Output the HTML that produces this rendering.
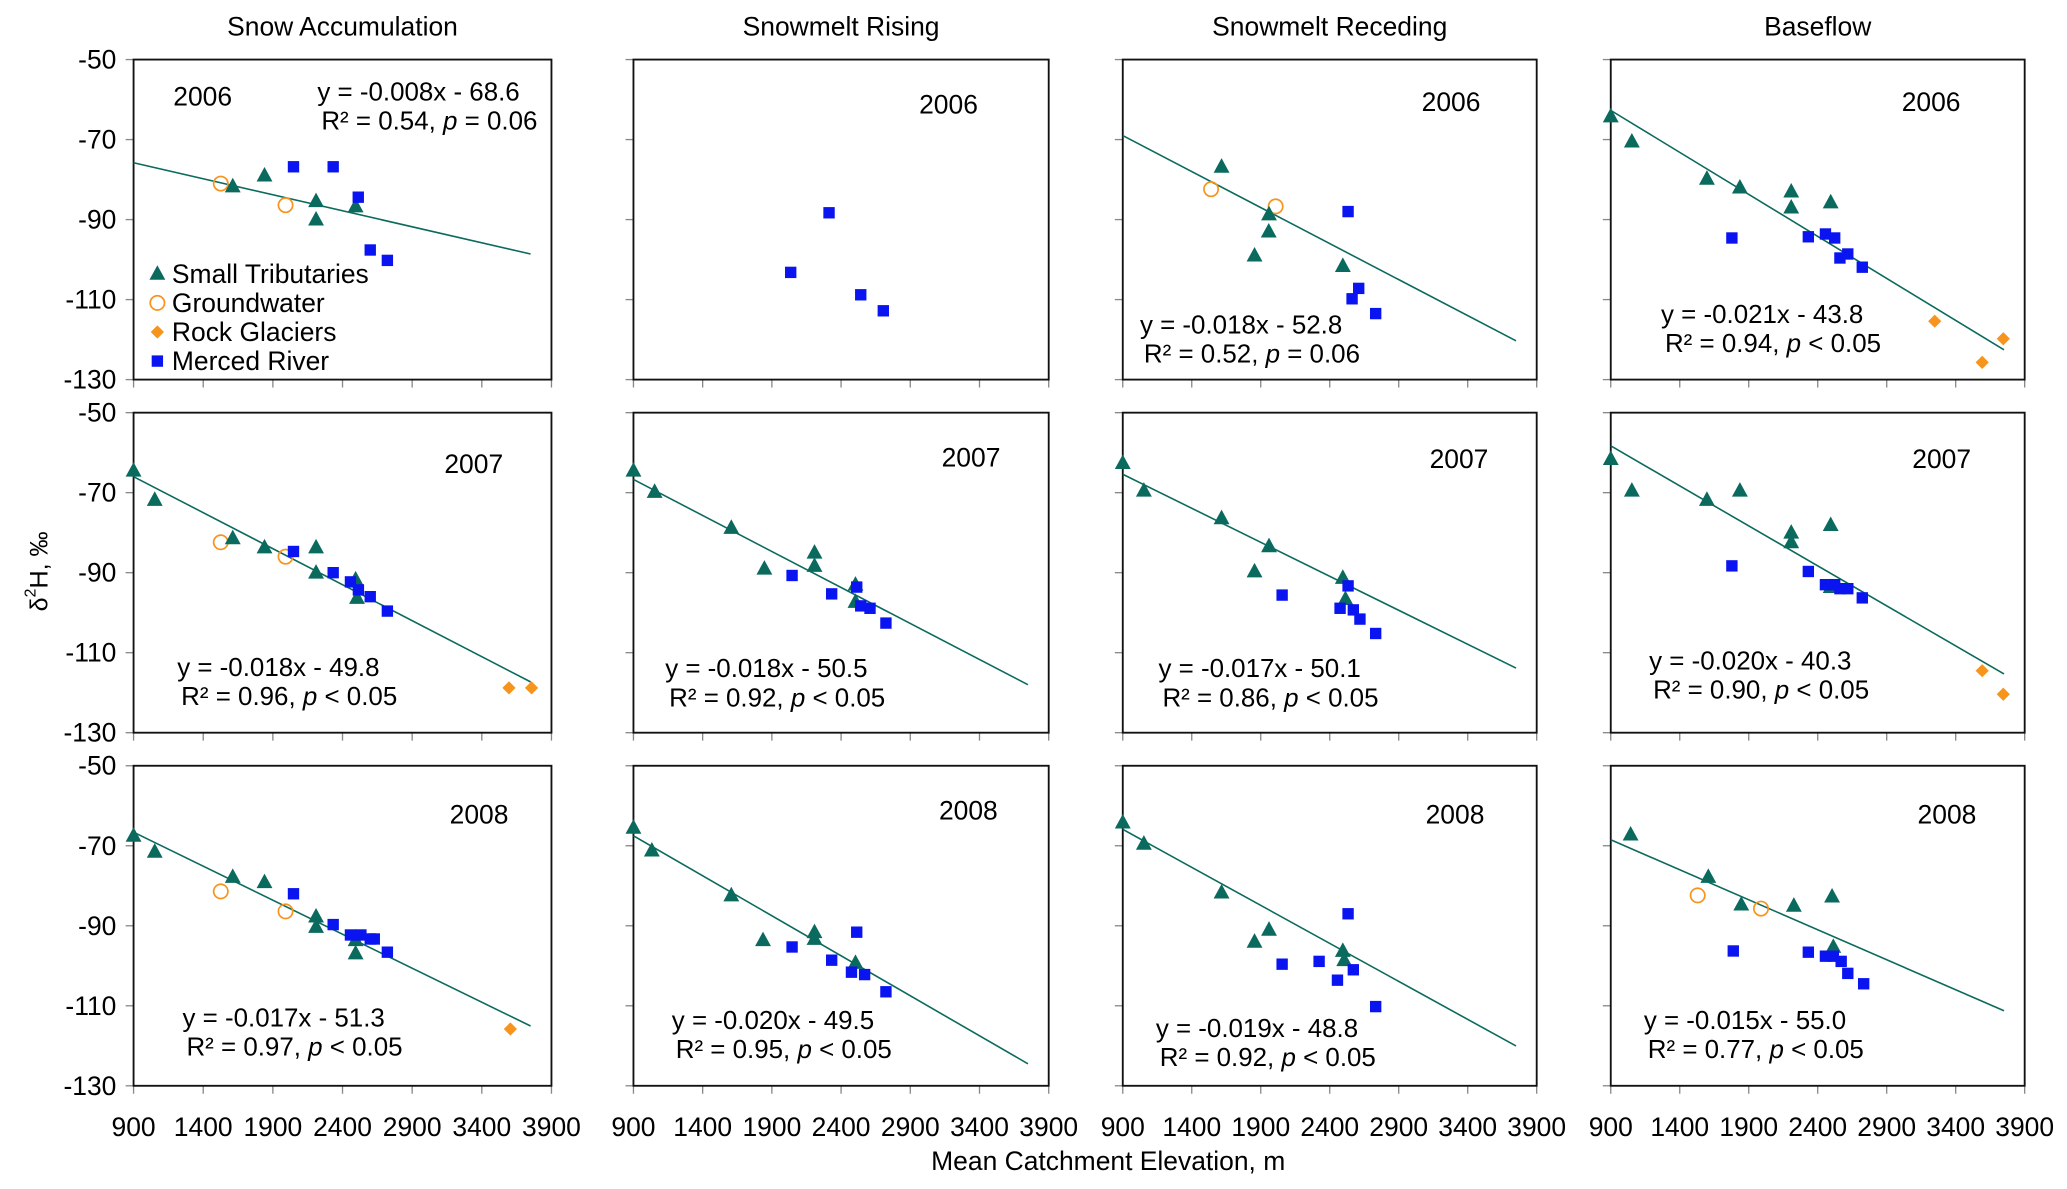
<!DOCTYPE html>
<html><head><meta charset="utf-8"><style>
html,body{margin:0;padding:0;background:#fff;}
svg{display:block;font-family:"Liberation Sans",Arial,sans-serif;}
</style></head><body>
<svg id="chart" width="2067" height="1189" viewBox="0 0 1563 899" xmlns="http://www.w3.org/2000/svg"></svg>
<script>
// ---- data (elevation m, δ2H ‰) ----
const columnTitles = ["Snow Accumulation","Snowmelt Rising","Snowmelt Receding","Baseflow"];
const years = ["2006","2007","2008"];
const yTicks = [-50,-70,-90,-110,-130];
const xTicks = [900,1400,1900,2400,2900,3400,3900];
// slopes / intercepts per panel (row-major), null = no trend line
const slopes = [-0.008,null,-0.018,-0.021, -0.018,-0.018,-0.017,-0.020, -0.017,-0.020,-0.019,-0.015];
const intercepts = [-68.6,null,-52.8,-43.8, -49.8,-50.5,-50.1,-40.3, -51.3,-49.5,-48.8,-55.0];
const eqText = ["y = -0.008x - 68.6","","y = -0.018x - 52.8","y = -0.021x - 43.8",
 "y = -0.018x - 49.8","y = -0.018x - 50.5","y = -0.017x - 50.1","y = -0.020x - 40.3",
 "y = -0.017x - 51.3","y = -0.020x - 49.5","y = -0.019x - 48.8","y = -0.015x - 55.0"];
const r2Text = ["0.54","","0.52","0.94","0.96","0.92","0.86","0.90","0.97","0.95","0.92","0.77"];
const pText = ["= 0.06","","= 0.06","< 0.05","< 0.05","< 0.05","< 0.05","< 0.05","< 0.05","< 0.05","< 0.05","< 0.05"];

const r1c1Tri=[[1612,-81.7],[1840,-79],[2210,-85.4],[2210,-90],[2494,-86.7]];
const r1c1Gw=[[1526,-81],[1991,-86.4]];
const r1c1Rg=[];
const r1c1Mr=[[2048,-76.8],[2333,-76.8],[2513,-84.4],[2599,-97.6],[2722,-100.2]];

const r1c2Tri=[];const r1c2Gw=[];const r1c2Rg=[];
const r1c2Mr=[[2036,-103.2],[2313,-88.3],[2542,-108.8],[2705,-112.8]];

const r1c3Tri=[[1616,-76.8],[1960,-88.7],[1958,-93],[1855,-99],[2495,-101.6]];
const r1c3Gw=[[1540,-82.4],[2008,-86.7]];
const r1c3Rg=[];
const r1c3Mr=[[2533,-88],[2562,-109.8],[2610,-107.2],[2733,-113.5]];

const r1c4Tri=[[900,-64.2],[1053,-70.5],[1597,-79.8],[1836,-82],[2208,-83],[2208,-87],[2494,-85.7]];
const r1c4Gw=[];
const r1c4Rg=[[3248,-115.4],[3592,-125.7],[3745,-119.8]];
const r1c4Mr=[[1778,-94.6],[2332,-94.3],[2456,-93.6],[2523,-94.6],[2561,-99.6],[2618,-98.6],[2723,-101.9]];

const r2c1Tri=[[900,-64.5],[1052,-71.8],[1612,-81.4],[1840,-83.7],[2210,-83.7],[2210,-90],[2494,-91.7],[2504,-96.3]];
const r2c1Gw=[[1526,-82.4],[1991,-86]];
const r2c1Rg=[[3595,-118.8],[3757,-118.8]];
const r2c1Mr=[[2048,-84.7],[2333,-90],[2457,-92.3],[2514,-94.3],[2599,-96],[2722,-99.6]];

const r2c2Tri=[[900,-64.5],[1053,-69.8],[1607,-78.8],[1846,-89],[2208,-85],[2208,-88.3],[2504,-93],[2504,-97.3]];
const r2c2Gw=[];const r2c2Rg=[];
const r2c2Mr=[[2046,-90.7],[2332,-95.3],[2513,-93.6],[2542,-98.3],[2609,-98.9],[2724,-102.6]];

const r2c3Tri=[[900,-62.6],[1053,-69.5],[1616,-76.4],[1855,-89.7],[1960,-83.4],[2495,-91.3],[2514,-96.6]];
const r2c3Gw=[];const r2c3Rg=[];
const r2c3Mr=[[2055,-95.6],[2475,-98.9],[2533,-93.3],[2571,-99.3],[2619,-101.6],[2733,-105.2]];

const r2c4Tri=[[900,-61.6],[1053,-69.5],[1597,-71.8],[1836,-69.5],[2208,-80],[2208,-82.4],[2494,-78.1],[2494,-93.6]];
const r2c4Gw=[];
const r2c4Rg=[[3592,-114.5],[3745,-120.4]];
const r2c4Mr=[[1778,-88.3],[2332,-89.7],[2456,-93],[2523,-93],[2561,-94],[2618,-94],[2723,-96.3]];

const r3c1Tri=[[900,-67.5],[1052,-71.5],[1612,-77.8],[1840,-79.1],[2210,-87.7],[2210,-90.3],[2494,-93.6],[2494,-96.9]];
const r3c1Gw=[[1526,-81.4],[1991,-86.4]];
const r3c1Rg=[[3605,-115.8]];
const r3c1Mr=[[2048,-82],[2333,-89.7],[2457,-92.3],[2532,-92.3],[2599,-93.3],[2628,-93.3],[2722,-96.6]];

const r3c2Tri=[[900,-65.5],[1033,-71.2],[1607,-82.4],[1836,-93.6],[2208,-91.6],[2208,-93.3],[2504,-99.3]];
const r3c2Gw=[];const r3c2Rg=[];
const r3c2Mr=[[2046,-95.3],[2332,-98.6],[2475,-101.6],[2513,-91.6],[2570,-102.2],[2724,-106.5]];

const r3c3Tri=[[900,-64.2],[1053,-69.5],[1616,-81.7],[1855,-94],[1960,-91],[2495,-96.3],[2505,-98.6]];
const r3c3Gw=[];const r3c3Rg=[];
const r3c3Mr=[[2055,-99.6],[2323,-98.9],[2456,-103.6],[2533,-87],[2571,-101],[2733,-110.2]];

const r3c4Tri=[[1044,-67.2],[1607,-77.8],[1846,-84.7],[2227,-85],[2504,-82.7],[2513,-95.3]];
const r3c4Gw=[[1530,-82.4],[1989,-85.7]];
const r3c4Rg=[];
const r3c4Mr=[[1788,-96.3],[2332,-96.6],[2456,-97.6],[2513,-97.6],[2570,-98.9],[2618,-101.9],[2733,-104.5]];

const panelSeries=[
 [r1c1Tri,r1c1Gw,r1c1Rg,r1c1Mr],[r1c2Tri,r1c2Gw,r1c2Rg,r1c2Mr],[r1c3Tri,r1c3Gw,r1c3Rg,r1c3Mr],[r1c4Tri,r1c4Gw,r1c4Rg,r1c4Mr],
 [r2c1Tri,r2c1Gw,r2c1Rg,r2c1Mr],[r2c2Tri,r2c2Gw,r2c2Rg,r2c2Mr],[r2c3Tri,r2c3Gw,r2c3Rg,r2c3Mr],[r2c4Tri,r2c4Gw,r2c4Rg,r2c4Mr],
 [r3c1Tri,r3c1Gw,r3c1Rg,r3c1Mr],[r3c2Tri,r3c2Gw,r3c2Rg,r3c2Mr],[r3c3Tri,r3c3Gw,r3c3Rg,r3c3Mr],[r3c4Tri,r3c4Gw,r3c4Rg,r3c4Mr]];

// ---- layout ----
const colLeft=[101,479,849,1218], colW=[316,314,313,313];
const rowTop=[45,312,579], rowH=242;
const yearPos=[[131,73],[695,79],[1075,77],[1438,77],[336,351],[712,346],[1081,347],[1446,347],[340,616],[710,613],[1078,616],[1450,616]];
const eqPos=[[240,70],null,[862,246],[1256,238],[134,505],[503,506],[876,506],[1247,500],[138,770],[508,772],[874,778],[1243,772]];
const teal="#0b6a5e", orange="#f7941d", blue="#0a14f0";
const svg=document.getElementById('chart');
const NS="http://www.w3.org/2000/svg";
function mk(tag,attrs,parent){const e=document.createElementNS(NS,tag);for(const k in attrs)e.setAttribute(k,attrs[k]);(parent||svg).appendChild(e);return e;}
function txt(x,y,s,size,anchor,parent){const t=mk('text',{x:x,y:y,'font-size':size,'text-anchor':anchor||'start','dominant-baseline':'central',fill:'#000'},parent);t.textContent=s;return t;}

function marker(g,type,cx,cy){
  let e;
  if(type===0){e=mk('polygon',{points:`${cx},${cy-6.5} ${cx-6},${cy+4.5} ${cx+6},${cy+4.5}`,fill:teal},g);}
  else if(type===1){e=mk('circle',{cx:cx,cy:cy,r:5.4,fill:'none',stroke:orange,'stroke-width':1.3},g);}
  else if(type===2){e=mk('polygon',{points:`${cx},${cy-5} ${cx+5},${cy} ${cx},${cy+5} ${cx-5},${cy}`,fill:orange},g);}
  else {e=mk('rect',{x:cx-4.3,y:cy-4.3,width:8.6,height:8.6,fill:blue},g);}
  
}

columnTitles.forEach((t,c)=>{const e=txt(colLeft[c]+colW[c]/2,20,t,20,'middle');});

for(let r=0;r<3;r++){for(let c=0;c<4;c++){
  const i=r*4+c, L=colLeft[c], W=colW[c], T=rowTop[r];
  const xs=v=>L+(v-900)/3000*W, ys=v=>T+(-50-v)/80*rowH;
  const g=mk('g',{});
  
  
  yTicks.forEach(v=>{mk('line',{x1:L-6,x2:L,y1:ys(v),y2:ys(v),stroke:'#888','stroke-width':1},g);
    if(c===0){const t=txt(L-13,ys(v),String(v),20,'end',g);}});
  xTicks.forEach(v=>{mk('line',{x1:xs(v),x2:xs(v),y1:T+rowH,y2:T+rowH+6,stroke:'#888','stroke-width':1},g);
    if(r===2){const t=txt(xs(v),T+rowH+31,String(v),20,'middle',g);}});
  const fr=mk('rect',{x:L,y:T,width:W,height:rowH,fill:'none',stroke:'#111','stroke-width':1.4},g);
  
  if(slopes[i]!==null){const x0=900,x1=3750;
    const ln=mk('line',{x1:xs(x0),y1:ys(slopes[i]*x0+intercepts[i]),x2:xs(x1),y2:ys(slopes[i]*x1+intercepts[i]),stroke:teal,'stroke-width':1.2},g);
    }
  [1,0,2,3].forEach(s=>panelSeries[i][s].forEach(p=>marker(g,s,xs(p[0]),ys(p[1]))));
  const yl=txt(yearPos[i][0],yearPos[i][1],years[r],20,'start',g);
  if(eqPos[i]){const e1=txt(eqPos[i][0],eqPos[i][1],eqText[i],19.6,'start',g);
    const e2=mk('text',{x:eqPos[i][0]+3,y:eqPos[i][1]+22,'font-size':19.6,'dominant-baseline':'central'},g);
    
    e2.innerHTML='R² = '+r2Text[i]+', <tspan font-style="italic">p</tspan> '+pText[i].replace('<','&lt;');}
}}

const lg=mk('g',{});
const legendLabels=["Small Tributaries","Groundwater","Rock Glaciers","Merced River"];
legendLabels.forEach((s,k)=>{const y=207+k*22;marker(lg,k,119,y);const t=txt(130,y,s,20,'start',lg);});

const xt=txt(838,878,"Mean Catchment Elevation, m",20,'middle');
const yt=mk('text',{x:0,y:0,'font-size':19,'text-anchor':'middle','dominant-baseline':'central',transform:'translate(30,432) rotate(-90)'});

yt.innerHTML='δ<tspan font-size="12" dy="-7">2</tspan><tspan dy="7">H, ‰</tspan>';
</script>
</body></html>
